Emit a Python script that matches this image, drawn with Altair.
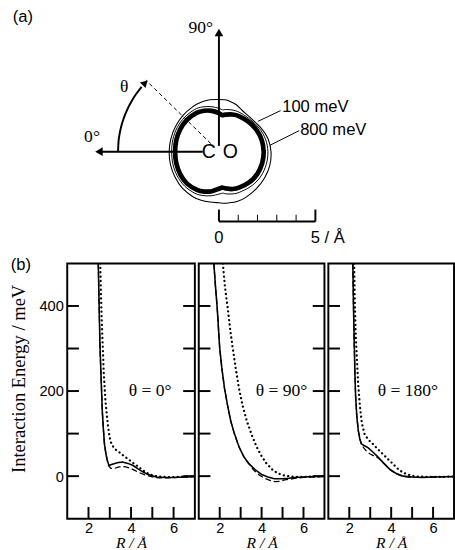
import altair as alt
import pandas as pd

# ---------------- (a) contour map data (polar, radius in Angstrom) ----------------
theta_deg = [0, 15, 30, 45, 60, 70, 80, 90, 95, 100, 110, 120, 135, 150, 165, 180,
             195, 210, 225, 240, 250, 260, 265, 270, 280, 290, 300, 315, 330, 345]
r_100meV = [2.58, 2.58, 2.60, 2.65, 2.70, 2.73, 2.73, 2.70, 2.70, 2.70, 2.60, 2.45, 2.40, 2.50, 2.63, 2.70,
            2.73, 2.73, 2.73, 2.75, 2.75, 2.70, 2.68, 2.65, 2.65, 2.68, 2.70, 2.68, 2.63, 2.60]
r_200meV = [2.45, 2.47, 2.50, 2.52, 2.52, 2.47, 2.37, 2.25, 2.18, 2.22, 2.28, 2.30, 2.33, 2.42, 2.50, 2.54,
            2.54, 2.52, 2.46, 2.37, 2.32, 2.22, 2.16, 2.20, 2.32, 2.42, 2.49, 2.52, 2.50, 2.47]
r_band = [2.27, 2.29, 2.32, 2.34, 2.32, 2.26, 2.15, 2.00, 1.90, 1.95, 2.05, 2.12, 2.18, 2.25, 2.30, 2.32,
          2.32, 2.30, 2.24, 2.14, 2.06, 1.93, 1.87, 1.92, 2.08, 2.20, 2.28, 2.34, 2.32, 2.29]

arc_theta = [0, 5, 10, 15, 20, 25, 30, 35, 40]
arc_radius = 5.23

# ---------------- (b) interaction energy curves ----------------
p0_solid_R = [2.46, 2.50, 2.54, 2.60, 2.65, 2.70, 2.75, 2.82, 2.88, 2.95, 3.0, 3.2, 3.4, 3.6, 3.85, 4.1, 4.33, 4.55, 4.8, 5.2, 5.6, 6.0, 6.5, 7.0]
p0_solid_E = [500, 400, 305, 220, 152, 110, 76, 52, 38, 27, 26, 29, 32, 33, 30, 25, 17, 10, 4, -2, -3, -3, -2, -1]
p0_dash_R = [2.46, 2.50, 2.54, 2.60, 2.65, 2.70, 2.75, 2.82, 2.88, 2.95, 3.05, 3.2, 3.4, 3.57, 3.75, 3.95, 4.2, 4.4, 4.65, 4.87, 5.1, 5.3, 5.7, 6.2, 7.0]
p0_dash_E = [500, 400, 305, 220, 152, 110, 76, 52, 38, 24, 18, 18, 21, 23, 22, 19, 13, 8, 3, 0, -3, -4, -4, -3, -1]
p0_dot_R = [2.55, 2.60, 2.65, 2.72, 2.80, 2.88, 2.95, 3.03, 3.15, 3.26, 3.45, 3.65, 3.87, 4.1, 4.33, 4.52, 4.72, 4.95, 5.18, 5.6, 6.0, 6.5, 7.0]
p0_dot_E = [500, 400, 330, 240, 175, 135, 105, 82, 70, 63, 56, 48, 40, 31, 23, 15, 8, 3, 0, -2, -2, -1, -1]

p1_solid_R = [1.72, 1.80, 1.88, 2.0, 2.1, 2.23, 2.38, 2.53, 2.7, 2.92, 3.15, 3.38, 3.7, 4.0, 4.3, 4.61, 5.0, 5.3, 5.6, 6.0, 6.5, 7.0]
p1_solid_E = [500, 445, 396, 301, 255, 206, 165, 129, 100, 69, 46, 30, 15, 4, -2, -6, -6, -5, -3, -2, -1, 0]
p1_dash_R = [1.72, 1.80, 1.88, 2.0, 2.1, 2.23, 2.38, 2.53, 2.7, 2.92, 3.15, 3.38, 3.61, 3.9, 4.15, 4.4, 4.65, 4.9, 5.1, 5.5, 6.0, 6.5, 7.0]
p1_dash_E = [500, 445, 396, 301, 255, 206, 165, 129, 100, 69, 46, 30, 15, 2, -5, -10, -13, -12, -9, -6, -3, -2, -1]
p1_dot_R = [2.15, 2.25, 2.38, 2.5, 2.61, 2.76, 2.92, 3.1, 3.3, 3.52, 3.76, 4.0, 4.23, 4.5, 4.76, 5.05, 5.37, 6.0, 6.5, 7.0]
p1_dot_E = [500, 445, 396, 345, 305, 255, 206, 165, 129, 98, 69, 47, 30, 16, 7, 2, -1, -2, -1, 0]

p2_solid_R = [2.17, 2.20, 2.24, 2.27, 2.30, 2.36, 2.43, 2.50, 2.58, 2.70, 2.89, 3.1, 3.35, 3.65, 3.96, 4.25, 4.58, 5.0, 5.5, 6.0, 7.0]
p2_solid_E = [500, 400, 305, 240, 190, 140, 107, 88, 76, 72, 67, 58, 46, 30, 15, 6, 0, -2, -3, -2, -1]
p2_dash_R = [2.17, 2.20, 2.24, 2.27, 2.30, 2.36, 2.43, 2.50, 2.58, 2.70, 2.85, 3.0, 3.2, 3.4, 3.65, 3.96, 4.25, 4.58, 5.0, 5.5, 6.0, 7.0]
p2_dash_E = [500, 400, 305, 240, 190, 140, 107, 88, 74, 66, 57, 52, 47, 42, 30, 15, 5, -1, -3, -3, -2, -1]
p2_dot_R = [2.23, 2.27, 2.31, 2.35, 2.42, 2.50, 2.60, 2.73, 2.90, 3.12, 3.35, 3.58, 3.85, 4.12, 4.35, 4.58, 4.9, 5.2, 6.0, 7.0]
p2_dot_E = [500, 400, 330, 290, 220, 168, 125, 99, 86, 76, 64, 53, 40, 27, 16, 8, 2, -1, -2, -1]

panel_labels = ["θ = 0°", "θ = 90°", "θ = 180°"]
panel_label_R = [4.9, 4.95, 4.8]
panel_label_E = [200, 200, 200]

y_tick_vals = [0, 100, 200, 300, 400]
y_label_vals = [0, 200, 400]
x_tick_vals = [2, 3, 4, 5, 6]
x_label_vals = [2, 4, 6]

# ---------------- (a) chart ----------------
A_W, A_H = 389, 240
xs = alt.Scale(domain=[-7.864, 11.783], nice=False, zero=False)
ys = alt.Scale(domain=[-4.631, 7.490], nice=False, zero=False)


def polar_line(r, width):
    df = pd.DataFrame({"theta": theta_deg, "r": r})
    return (
        alt.Chart(df)
        .transform_calculate(px="-datum.r*cos(datum.theta*PI/180)",
                             py="datum.r*sin(datum.theta*PI/180)")
        .mark_line(interpolate="cardinal-closed", stroke="black", strokeWidth=width)
        .encode(x=alt.X("px:Q", scale=xs, axis=None),
                y=alt.Y("py:Q", scale=ys, axis=None),
                order=alt.Order("theta:Q"))
    )


seg_df = pd.DataFrame({
    "x1": [-6.22, 0.0], "y1": [0.0, 0.30],
    "x2": [-0.84, 0.0], "y2": [0.0, 6.18],
})
arrows = alt.Chart(seg_df).mark_rule(strokeWidth=2, color="black").encode(
    x=alt.X("x1:Q", scale=xs, axis=None), y=alt.Y("y1:Q", scale=ys, axis=None),
    x2="x2:Q", y2="y2:Q")

heads_df = pd.DataFrame({"x": [-6.22, 0.0], "y": [0.0, 6.18],
                         "shape": ["triangle-left", "triangle-up"]})
heads = alt.Chart(heads_df).mark_point(filled=True, size=80, color="black", opacity=1).encode(
    x=alt.X("x:Q", scale=xs, axis=None), y=alt.Y("y:Q", scale=ys, axis=None),
    shape=alt.Shape("shape:N", scale=None))

arc_df = pd.DataFrame({"theta": arc_theta, "r": [arc_radius] * len(arc_theta)})
arc = (alt.Chart(arc_df)
       .transform_calculate(px="-datum.r*cos(datum.theta*PI/180)",
                            py="datum.r*sin(datum.theta*PI/180)")
       .mark_line(stroke="black", strokeWidth=2, interpolate="monotone")
       .encode(x=alt.X("px:Q", scale=xs, axis=None), y=alt.Y("py:Q", scale=ys, axis=None),
               order=alt.Order("theta:Q")))
arc_head_df = pd.DataFrame({"theta": [43], "r": [arc_radius]})
arc_head = (alt.Chart(arc_head_df)
            .transform_calculate(px="-datum.r*cos(datum.theta*PI/180)",
                                 py="datum.r*sin(datum.theta*PI/180)")
            .mark_point(shape="triangle-up", filled=True, size=65, color="black", angle=45, opacity=1)
            .encode(x=alt.X("px:Q", scale=xs, axis=None), y=alt.Y("py:Q", scale=ys, axis=None)))

dash_df = pd.DataFrame({"x1": [-0.42], "y1": [0.42], "x2": [-3.79], "y2": [3.71]})
dash_line = alt.Chart(dash_df).mark_rule(strokeWidth=1, color="black", strokeDash=[4, 3]).encode(
    x=alt.X("x1:Q", scale=xs, axis=None), y=alt.Y("y1:Q", scale=ys, axis=None),
    x2="x2:Q", y2="y2:Q")

leader_df = pd.DataFrame({"x1": [3.20, 4.16], "y1": [2.13, 1.09],
                          "x2": [2.02, 2.64], "y2": [1.57, 0.33]})
leaders = alt.Chart(leader_df).mark_rule(strokeWidth=1, color="black").encode(
    x=alt.X("x1:Q", scale=xs, axis=None), y=alt.Y("y1:Q", scale=ys, axis=None),
    x2="x2:Q", y2="y2:Q")

# scale bar 0..5 Angstrom
bar_base = alt.Chart(pd.DataFrame({"x1": [0.0], "x2": [5.0], "y": [-3.62]})).mark_rule(
    strokeWidth=2, color="black").encode(
    x=alt.X("x1:Q", scale=xs, axis=None), x2="x2:Q", y=alt.Y("y:Q", scale=ys, axis=None))
bar_major = alt.Chart(pd.DataFrame({"x": [0, 5]})).mark_rule(strokeWidth=2, color="black").encode(
    x=alt.X("x:Q", scale=xs, axis=None), y=alt.Y(datum=-3.62, scale=ys, axis=None), y2=alt.Y2(datum=-3.0))
bar_minor = alt.Chart(pd.DataFrame({"x": [1, 2, 3, 4]})).mark_rule(strokeWidth=1, color="black").encode(
    x=alt.X("x:Q", scale=xs, axis=None), y=alt.Y(datum=-3.62, scale=ys, axis=None), y2=alt.Y2(datum=-3.27))

serif_df = pd.DataFrame({"x": [-0.94, -6.58, -4.91], "y": [6.40, 0.77, 3.37],
                         "t": ["90°", "0°", "θ"]})
serif_text = alt.Chart(serif_df).mark_text(font="Liberation Serif", fontSize=18, color="black").encode(
    x=alt.X("x:Q", scale=xs, axis=None), y=alt.Y("y:Q", scale=ys, axis=None), text="t:N")

co_df = pd.DataFrame({"x": [-0.53, 0.59], "y": [0.0, 0.0], "t": ["C", "O"]})
co_text = alt.Chart(co_df).mark_text(font="Liberation Sans", fontSize=20, color="black").encode(
    x=alt.X("x:Q", scale=xs, axis=None), y=alt.Y("y:Q", scale=ys, axis=None), text="t:N")

lbl_df = pd.DataFrame({"x": [3.28, 4.21, 4.76], "y": [2.31, 1.14, -4.48],
                       "t": ["100 meV", "800 meV", "5 / Å"]})
lbl_text = alt.Chart(lbl_df).mark_text(font="Liberation Sans", fontSize=17, align="left", color="black").encode(
    x=alt.X("x:Q", scale=xs, axis=None), y=alt.Y("y:Q", scale=ys, axis=None), text="t:N")
zero_text = alt.Chart(pd.DataFrame({"x": [0.0], "y": [-4.48], "t": ["0"]})).mark_text(
    font="Liberation Sans", fontSize=17, color="black").encode(
    x=alt.X("x:Q", scale=xs, axis=None), y=alt.Y("y:Q", scale=ys, axis=None), text="t:N")

a_tag = alt.Chart(pd.DataFrame({"t": ["(a)"]})).mark_text(
    font="Liberation Sans", fontSize=17, align="left", baseline="top", color="black").encode(
    x=alt.value(-56), y=alt.value(2), text="t:N")

top = alt.layer(
    polar_line(r_100meV, 1.1), polar_line(r_200meV, 1.0), polar_line(r_band, 4.8),
    dash_line, arrows, heads, arc, arc_head, leaders,
    bar_base, bar_major, bar_minor, serif_text, co_text, lbl_text, zero_text, a_tag,
).properties(width=A_W, height=A_H, view=alt.ViewBackground(strokeOpacity=0))

# ---------------- (b) panels ----------------
P_H = 262


def make_panel(idx, sR, sE, dR, dE, tR, tE, width, first, right_ticks):
    xscale = alt.Scale(domain=[1, 7], nice=False, zero=False)
    yscale = alt.Scale(domain=[-100, 500], nice=False, zero=False)
    x_enc = alt.X("R:Q", scale=xscale, axis=alt.Axis(
        values=x_label_vals, ticks=False, domain=False, grid=False,
        labelFont="Liberation Sans", labelFontSize=15, labelPadding=2, labelColor="black",
        title="R / Å", titleFont="Liberation Serif", titleFontStyle="italic",
        titleFontWeight="normal", titleFontSize=16, titlePadding=0, titleColor="black"))
    if first:
        y_axis = alt.Axis(values=y_label_vals, ticks=False, domain=False, grid=False,
                          labelFont="Liberation Sans", labelFontSize=15, labelPadding=4,
                          labelColor="black",
                          title="Interaction Energy / meV", titleFont="Liberation Serif",
                          titleFontWeight="normal", titleFontSize=19, titlePadding=11,
                          titleColor="black", titleY=118)
    else:
        y_axis = None
    y_enc = alt.Y("E:Q", scale=yscale, axis=y_axis)

    solid = alt.Chart(pd.DataFrame({"R": sR, "E": sE})).mark_line(
        color="black", strokeWidth=1.6, clip=True).encode(x=x_enc, y=y_enc, order="R:Q")
    dashed = alt.Chart(pd.DataFrame({"R": dR, "E": dE})).mark_line(
        color="black", strokeWidth=1.3, strokeDash=[6, 3], clip=True).encode(x=x_enc, y=y_enc, order="R:Q")
    dotted = alt.Chart(pd.DataFrame({"R": tR, "E": tE})).mark_line(
        color="black", strokeWidth=2.3, strokeDash=[0.1, 4.4], strokeCap="round", clip=True).encode(
        x=x_enc, y=y_enc, order="R:Q")

    yt = pd.DataFrame({"E": y_tick_vals})
    lticks = alt.Chart(yt).mark_rule(color="black", strokeWidth=2).encode(
        y=y_enc, x=alt.value(0), x2=alt.value(12))
    layers = [solid, dashed, dotted, lticks]
    if right_ticks:
        rticks = alt.Chart(yt).mark_rule(color="black", strokeWidth=2).encode(
            y=y_enc, x=alt.value(width - 12), x2=alt.value(width))
        layers.append(rticks)
    xticks = alt.Chart(pd.DataFrame({"R": x_tick_vals})).mark_rule(color="black", strokeWidth=2).encode(
        x=x_enc, y=alt.value(P_H), y2=alt.value(P_H - 12))
    layers.append(xticks)
    lab = alt.Chart(pd.DataFrame({"R": [panel_label_R[idx]], "E": [panel_label_E[idx]],
                                  "t": [panel_labels[idx]]})).mark_text(
        font="Liberation Serif", fontSize=18, color="black").encode(x=x_enc, y=y_enc, text="t:N")
    layers.append(lab)
    if first:
        btag = alt.Chart(pd.DataFrame({"t": ["(b)"]})).mark_text(
            font="Liberation Sans", fontSize=17, align="left", baseline="top", color="black").encode(
            x=alt.value(-58), y=alt.value(-6), text="t:N")
        layers.append(btag)
    return alt.layer(*layers).properties(
        width=width, height=P_H, view=alt.ViewBackground(stroke="black", strokeWidth=2))


p1 = make_panel(0, p0_solid_R, p0_solid_E, p0_dash_R, p0_dash_E, p0_dot_R, p0_dot_E, 131, True, True)
p2 = make_panel(1, p1_solid_R, p1_solid_E, p1_dash_R, p1_dash_E, p1_dot_R, p1_dot_E, 129, False, True)
p3 = make_panel(2, p2_solid_R, p2_solid_E, p2_dash_R, p2_dash_E, p2_dot_R, p2_dot_E, 129, False, False)

bottom = alt.hconcat(p1, p2, p3, spacing=0)

chart = alt.vconcat(top, bottom, spacing=9).properties(
    padding={"left": 8, "top": 0, "right": 0, "bottom": 0}
).configure_axis(grid=False)

chart.save("out.html", embed_options={"renderer": "svg", "actions": False})
